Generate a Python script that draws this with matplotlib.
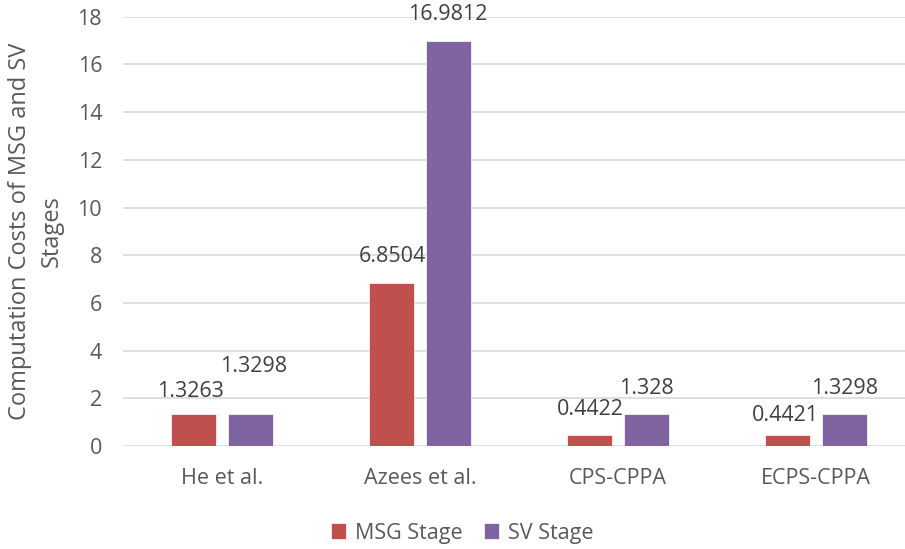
"""Computation cost of the MSG and SV stages for each scheme."""

import matplotlib
matplotlib.use('Agg')
import matplotlib.pyplot as plt
import numpy as np

schemes = ['He et al.', 'Azees et al.', 'CPS-CPPA', 'ECPS-CPPA']
msg_stage = [1.3263, 6.8504, 0.4422, 0.4421]
sv_stage = [1.3298, 16.9812, 1.328, 1.3298]
msg_labels = ['1.3263', '6.8504', '0.4422', '0.4421']
sv_labels = ['1.3298', '16.9812', '1.328', '1.3298']
y_ticks = [0, 2, 4, 6, 8, 10, 12, 14, 16, 18]

# label nudges in pixels (dx, dy) from the top centre of each bar
msg_offsets = [(-3, 23), (0, 26), (0, 26), (-3, 20)]
sv_offsets = [(3, 48), (0, 26), (0, 26), (0, 26)]

TEXT = '#595959'
GRID = '#D9D9D9'
MSG_COLOR = '#C0504D'
SV_COLOR = '#8064A2'

plt.rcParams['font.family'] = ['Open Sans', 'DejaVu Sans']
plt.rcParams['font.size'] = 15

fig = plt.figure(figsize=(9.05, 5.49), dpi=100)
ax = fig.add_axes([123 / 905, 1 - 446 / 549, 1 - 123 / 905, 429.3 / 549])

x = np.arange(len(schemes))
width = 0.228
shift = 0.142

bars_msg = ax.bar(x - shift, msg_stage, width, color=MSG_COLOR, label='MSG Stage',
                  edgecolor='white', linewidth=0.5, zorder=3)
bars_sv = ax.bar(x + shift, sv_stage, width, color=SV_COLOR, label='SV Stage',
                 edgecolor='white', linewidth=0.5, zorder=3)

for bars, labels, offsets in [(bars_msg, msg_labels, msg_offsets),
                              (bars_sv, sv_labels, sv_offsets)]:
    for bar, text, (dx, dy) in zip(bars, labels, offsets):
        ax.annotate(text,
                    xy=(bar.get_x() + bar.get_width() / 2, bar.get_height()),
                    xytext=(dx, dy), textcoords='offset pixels',
                    ha='center', va='center', color='#404040', fontsize=15.5)

ax.set_xlim(-0.5, 3.5 - 10 / 197.5)
ax.set_ylim(0, 18)
ax.set_yticks(y_ticks)
ax.set_xticks(x)
ax.set_xticklabels(schemes)
ax.tick_params(axis='both', length=0, colors=TEXT, labelsize=15.5)
ax.tick_params(axis='x', pad=16)
ax.tick_params(axis='y', pad=15)
ax.yaxis.grid(True, color=GRID, linewidth=1.2, zorder=0)
ax.set_axisbelow(True)
for side in ['top', 'right', 'left', 'bottom']:
    ax.spines[side].set_visible(False)

ax.set_ylabel('Computation Costs of MSG and SV\nStages', color=TEXT,
              fontsize=17, labelpad=10, linespacing=1.45)

fig.legend(loc='center', bbox_to_anchor=(462 / 905, 1 - 533 / 549), ncol=2,
           frameon=False, handlelength=0.7, handleheight=0.7,
           handletextpad=0.4, columnspacing=1.0, labelcolor=TEXT, fontsize=15.5)

fig.savefig('out.png', dpi=100)
